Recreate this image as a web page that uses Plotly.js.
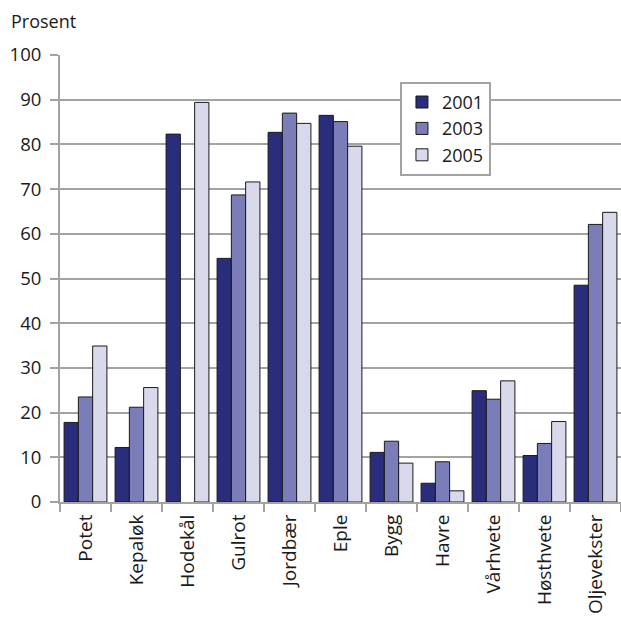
<!DOCTYPE html>
<html>
<head>
<meta charset="utf-8">
<script src="https://cdn.plot.ly/plotly-3.0.1.min.js"></script>
<style>html,body{margin:0;padding:0;background:#fff;}#chart{width:621px;height:619px;}</style>
</head>
<body>
<div id="chart"></div>
<script>
const categories = ["Potet","Kepaløk","Hodekål","Gulrot","Jordbær","Eple","Bygg","Havre","Vårhvete","Høsthvete","Oljevekster"];
const years = ["2001","2003","2005"];
const values2001 = [17.8, 12.2, 82.3, 54.5, 82.7, 86.5, 11.1, 4.2, 24.9, 10.4, 48.5];
const values2003 = [23.5, 21.2, null, 68.7, 87.0, 85.1, 13.6, 9.0, 23.0, 13.1, 62.1];
const values2005 = [34.9, 25.6, 89.4, 71.6, 84.7, 79.6, 8.7, 2.5, 27.1, 18.0, 64.8];
const yTicks = [0,10,20,30,40,50,60,70,80,90,100];
const yLabel = "Prosent";

const colors = ["#2a2d7c", "#7b7db9", "#d9d9ec"];
const series = [values2001, values2003, values2005];
const gridCol = "#a3a3a3";
const fontFam = "'Open Sans', 'Noto Sans', sans-serif";

const traces = series.map((v, i) => ({
  type: "bar",
  name: years[i],
  x: categories,
  y: v,
  marker: {color: colors[i], line: {color: "#1a1a1a", width: 1}},
  hoverinfo: "skip"
}));

const layout = {
  width: 621, height: 619,
  margin: {l: 60, r: 0, t: 55, b: 117, pad: 0},
  paper_bgcolor: "#fff", plot_bgcolor: "#fff",
  font: {family: fontFam, size: 18, color: "#1a1a1a"},
  barmode: "group",
  bargap: 0.16,
  bargroupgap: 0,
  showlegend: true,
  legend: {
    x: 0.606, y: 0.94, xanchor: "left", yanchor: "top",
    bgcolor: "#fff", bordercolor: gridCol, borderwidth: 2,
    font: {family: fontFam, size: 18, color: "#1a1a1a"},
    tracegroupgap: 0, itemwidth: 30
  },
  xaxis: {
    type: "category",
    tickangle: -90,
    showline: true, linecolor: gridCol, linewidth: 2,
    ticks: "outside", tickson: "boundaries", ticklen: 8, tickwidth: 2, tickcolor: gridCol,
    showgrid: false, zeroline: false,
    ticklabelstandoff: 3,
    tickfont: {family: fontFam, size: 19, color: "#1a1a1a"}
  },
  yaxis: {
    range: [0, 100],
    tickvals: yTicks,
    showline: true, linecolor: gridCol, linewidth: 2,
    ticks: "outside", ticklen: 8, tickwidth: 2, tickcolor: gridCol,
    showgrid: true, gridcolor: gridCol, gridwidth: 2,
    zeroline: false,
    ticklabelstandoff: 5,
    tickfont: {family: fontFam, size: 18.5, color: "#1a1a1a"}
  },
  annotations: [{
    text: yLabel, xref: "paper", yref: "paper",
    x: -0.091, y: 1.075, xanchor: "left", yanchor: "middle",
    showarrow: false, font: {family: fontFam, size: 18, color: "#1a1a1a"}
  }]
};

Plotly.newPlot("chart", traces, layout, {displayModeBar: false, staticPlot: true});
</script>
</body>
</html>
